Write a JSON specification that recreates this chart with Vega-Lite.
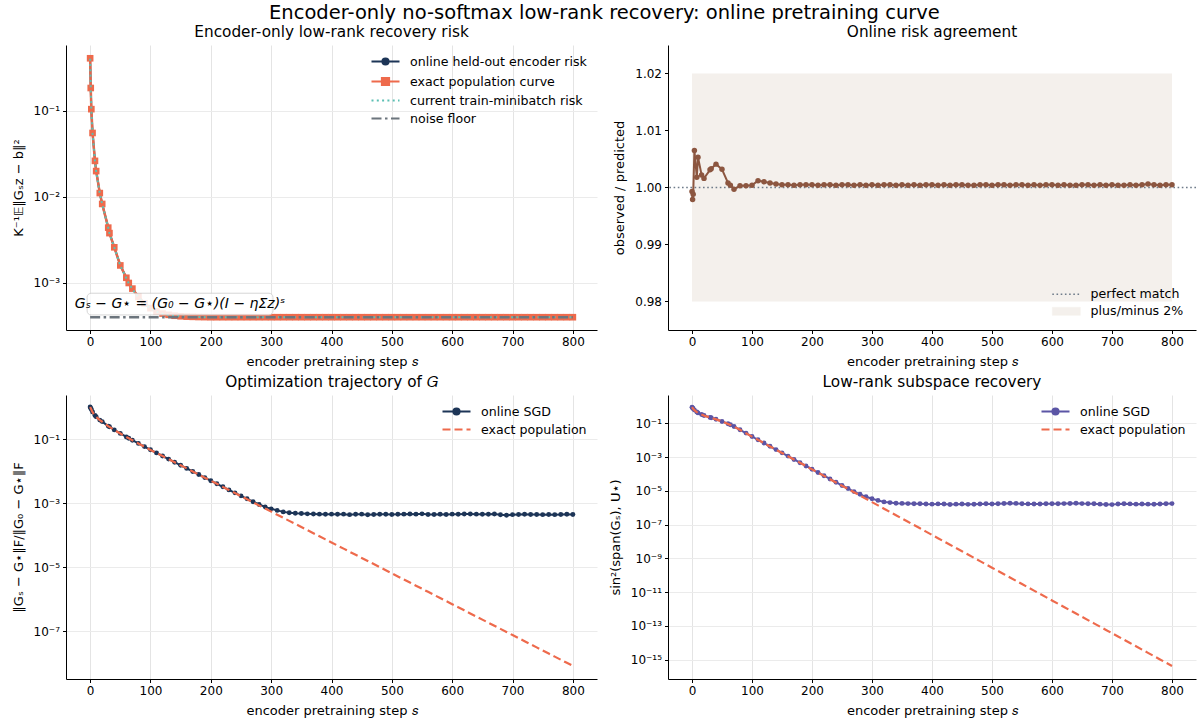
{
"$schema": "https://vega.github.io/schema/vega-lite/v6.json",
"padding": {"left": 12, "top": 3, "right": 5, "bottom": 2},
"title": {"text": "Encoder-only no-softmax low-rank recovery: online pretraining curve", "fontSize": 19.5, "fontWeight": "normal", "anchor": "middle", "offset": 1, "color": "#000"},
"config": {
  "font": "DejaVu Sans",
  "view": {"stroke": null},
  "axis": {"domainColor": "#000", "tickColor": "#000", "labelColor": "#000", "titleColor": "#000", "labelFontSize": 12, "titleFontSize": 13, "titleFontWeight": "normal", "tickSize": 3.5, "labelPadding": 3, "gridColor": "#ebebeb"},
  "axisY": {"titlePadding": 8},
  "axisX": {"titlePadding": 8},
  "title": {"fontSize": 15.3, "fontWeight": "normal", "color": "#000", "offset": 5},
  "legend": {"title": null, "labelFontSize": 12.6, "labelColor": "#000", "symbolSize": 100, "labelOffset": 18, "rowPadding": 4, "labelLimit": 300}
},
"datasets": {"d": [
{"s":0,"re":0.41,"ro":0.4097,"rt":0.405,"q":0.9993,"te":1.0,"to":1.0,"ue":0.891,"uo":0.891},
{"s":1,"re":0.185,"ro":0.1846,"rt":0.183,"q":0.9979,"te":0.912,"to":0.915,"ue":0.794,"uo":0.80},
{"s":2,"re":0.105,"ro":0.1049,"rt":0.104,"q":0.9988,"te":0.832,"to":0.84,"ue":0.724,"uo":0.73},
{"s":4,"re":0.0555,"ro":0.0559,"rt":0.0552,"q":1.0065,"te":0.692,"to":0.70,"ue":0.589,"uo":0.60},
{"s":8,"re":0.0263,"ro":0.02635,"rt":0.0261,"q":1.0018,"te":0.537,"to":0.54,"ue":0.457,"uo":0.46},
{"s":10,"re":0.02,"ro":0.0201,"rt":0.0199,"q":1.0053,"te":0.49,"to":0.495,"ue":0.407,"uo":0.41},
{"s":16,"re":0.0111,"ro":0.01112,"rt":0.011,"q":1.0022,"te":0.389,"to":0.39,"ue":0.324,"uo":0.33},
{"s":20,"re":0.0083,"ro":0.00831,"rt":0.0082,"q":1.0016,"te":0.347,"to":0.35,"ue":0.282,"uo":0.285},
{"s":30,"re":0.0044,"ro":0.00441,"rt":0.00438,"q":1.0031,"te":0.251,"to":0.253,"ue":0.219,"uo":0.222},
{"s":32,"re":0.0038,"ro":0.00381,"rt":0.00378,"q":1.0033,"te":0.24,"to":0.242,"ue":0.209,"uo":0.21},
{"s":40,"re":0.0026,"ro":0.00261,"rt":0.00259,"q":1.0041,"te":0.191,"to":0.193,"ue":0.17,"uo":0.172},
{"s":50,"re":0.0016,"ro":0.0016,"rt":0.00159,"q":1.0032,"te":0.148,"to":0.15,"ue":0.126,"uo":0.128},
{"s":60,"re":0.00115,"ro":0.00115,"rt":0.00114,"q":1.0008,"te":0.115,"to":0.116,"ue":0.0912,"uo":0.093},
{"s":64,"re":0.001,"ro":0.001,"rt":0.00099,"q":1.0004,"te":0.105,"to":0.106,"ue":0.0794,"uo":0.081},
{"s":70,"re":0.00086,"ro":0.00086,"rt":0.00085,"q":0.9997,"te":0.0912,"to":0.092,"ue":0.0631,"uo":0.064},
{"s":80,"re":0.00069,"ro":0.00069,"rt":0.00068,"q":1.0003,"te":0.0724,"to":0.073,"ue":0.0407,"uo":0.041},
{"s":90,"re":0.00058,"ro":0.00058,"rt":0.000575,"q":1.0003,"te":0.0575,"to":0.058,"ue":0.0257,"uo":0.026},
{"s":100,"re":0.00051,"ro":0.00051,"rt":0.000505,"q":1.0004,"te":0.0457,"to":0.046,"ue":0.01622,"uo":0.0164},
{"s":110,"re":0.000467,"ro":0.000468,"rt":0.000464,"q":1.0012,"te":0.03661,"to":0.0368,"ue":0.01038,"uo":0.0105},
{"s":120,"re":0.000441,"ro":0.000441,"rt":0.000439,"q":1.001,"te":0.02933,"to":0.0295,"ue":0.006638,"uo":0.0067},
{"s":130,"re":0.000426,"ro":0.000426,"rt":0.000425,"q":1.0008,"te":0.02349,"to":0.0236,"ue":0.004246,"uo":0.0043},
{"s":140,"re":0.000416,"ro":0.000416,"rt":0.000415,"q":1.0006,"te":0.01882,"to":0.0189,"ue":0.002716,"uo":0.00275},
{"s":150,"re":0.00041,"ro":0.00041,"rt":0.000409,"q":1.0005,"te":0.01507,"to":0.0151,"ue":0.001738,"uo":0.00176},
{"s":160,"re":0.000406,"ro":0.000406,"rt":0.000405,"q":1.0005,"te":0.01207,"to":0.0121,"ue":0.001112,"uo":0.00113},
{"s":170,"re":0.000404,"ro":0.000404,"rt":0.000403,"q":1.0004,"te":0.00967,"to":0.0097,"ue":0.0007111,"uo":0.00072},
{"s":180,"re":0.000402,"ro":0.000402,"rt":0.000401,"q":1.0005,"te":0.007746,"to":0.00778,"ue":0.0004549,"uo":0.00046},
{"s":190,"re":0.000401,"ro":0.000401,"rt":0.0004,"q":1.0005,"te":0.006204,"to":0.00623,"ue":0.000291,"uo":0.000295},
{"s":200,"re":0.0004,"ro":0.0004,"rt":0.0004,"q":1.0005,"te":0.00497,"to":0.005,"ue":0.0001862,"uo":0.000189},
{"s":210,"re":0.0004,"ro":0.0004,"rt":0.0004,"q":1.0004,"te":0.003981,"to":0.004,"ue":0.0001191,"uo":0.000121},
{"s":220,"re":0.0004,"ro":0.0004,"rt":0.0004,"q":1.0005,"te":0.003189,"to":0.00322,"ue":7.618e-5,"uo":7.8e-5},
{"s":230,"re":0.0004,"ro":0.0004,"rt":0.0004,"q":1.0005,"te":0.002554,"to":0.00258,"ue":4.873e-5,"uo":5.0e-5},
{"s":240,"re":0.0004,"ro":0.0004,"rt":0.0004,"q":1.0004,"te":0.002046,"to":0.00208,"ue":3.117e-5,"uo":3.2e-5},
{"s":250,"re":0.0004,"ro":0.0004,"rt":0.0004,"q":1.0005,"te":0.001639,"to":0.00168,"ue":1.994e-5,"uo":2.08e-5},
{"s":260,"re":0.0004,"ro":0.0004,"rt":0.0004,"q":1.0005,"te":0.001313,"to":0.00136,"ue":1.276e-5,"uo":1.36e-5},
{"s":270,"re":0.0004,"ro":0.0004,"rt":0.0004,"q":1.0004,"te":0.001052,"to":0.0011,"ue":8.161e-6,"uo":9.0e-6},
{"s":280,"re":0.0004,"ro":0.0004,"rt":0.0004,"q":1.0005,"te":0.0008423,"to":0.0009,"ue":5.221e-6,"uo":6.2e-6},
{"s":290,"re":0.0004,"ro":0.0004,"rt":0.0004,"q":1.0004,"te":0.0006747,"to":0.00076,"ue":3.34e-6,"uo":4.4e-6},
{"s":300,"re":0.0004,"ro":0.0004,"rt":0.0004,"q":1.0005,"te":0.0005404,"to":0.00066,"ue":2.136e-6,"uo":3.4e-6},
{"s":310,"re":0.0004,"ro":0.0004,"rt":0.0004,"q":1.0004,"te":0.0004329,"to":0.00059,"ue":1.367e-6,"uo":2.7e-6},
{"s":320,"re":0.0004,"ro":0.0004,"rt":0.0004,"q":1.0005,"te":0.0003467,"to":0.00053,"ue":8.742e-7,"uo":2.2e-6},
{"s":330,"re":0.0004,"ro":0.0004,"rt":0.0004,"q":1.0005,"te":0.0002777,"to":0.0005,"ue":5.592e-7,"uo":2.0e-6},
{"s":340,"re":0.0004,"ro":0.0004,"rt":0.0004,"q":1.0004,"te":0.0002225,"to":0.00048,"ue":3.577e-7,"uo":1.85e-6},
{"s":350,"re":0.0004,"ro":0.0004,"rt":0.0004,"q":1.0005,"te":0.0001782,"to":0.00047,"ue":2.288e-7,"uo":1.8e-6},
{"s":360,"re":0.0004,"ro":0.0004,"rt":0.0004,"q":1.0004,"te":0.0001427,"to":0.00046,"ue":1.464e-7,"uo":1.75e-6},
{"s":370,"re":0.0004,"ro":0.0004,"rt":0.0004,"q":1.0005,"te":0.0001143,"to":0.000455,"ue":9.364e-8,"uo":1.7e-6},
{"s":380,"re":0.0004,"ro":0.0004,"rt":0.0004,"q":1.0004,"te":9.159e-5,"to":0.00045,"ue":5.99e-8,"uo":1.72e-6},
{"s":390,"re":0.0004,"ro":0.0004,"rt":0.0004,"q":1.0005,"te":7.336e-5,"to":0.000445,"ue":3.832e-8,"uo":1.65e-6},
{"s":400,"re":0.0004,"ro":0.0004,"rt":0.0004,"q":1.0005,"te":5.876e-5,"to":0.00045,"ue":2.451e-8,"uo":1.62e-6},
{"s":410,"re":0.0004,"ro":0.0004,"rt":0.0004,"q":1.0004,"te":4.707e-5,"to":0.000445,"ue":1.568e-8,"uo":1.68e-6},
{"s":420,"re":0.0004,"ro":0.0004,"rt":0.0004,"q":1.0005,"te":3.77e-5,"to":0.00045,"ue":1.003e-8,"uo":1.65e-6},
{"s":430,"re":0.0004,"ro":0.0004,"rt":0.0004,"q":1.0004,"te":3.02e-5,"to":0.000435,"ue":6.417e-9,"uo":1.55e-6},
{"s":440,"re":0.0004,"ro":0.0004,"rt":0.0004,"q":1.0005,"te":2.419e-5,"to":0.000445,"ue":4.105e-9,"uo":1.62e-6},
{"s":450,"re":0.0004,"ro":0.0004,"rt":0.0004,"q":1.0005,"te":1.938e-5,"to":0.00045,"ue":2.626e-9,"uo":1.66e-6},
{"s":460,"re":0.0004,"ro":0.0004,"rt":0.0004,"q":1.0004,"te":1.552e-5,"to":0.00043,"ue":1.68e-9,"uo":1.58e-6},
{"s":470,"re":0.0004,"ro":0.0004,"rt":0.0004,"q":1.0004,"te":1.243e-5,"to":0.00044,"ue":1.075e-9,"uo":1.6e-6},
{"s":480,"re":0.0004,"ro":0.0004,"rt":0.0004,"q":1.0005,"te":9.959e-6,"to":0.000445,"ue":6.873e-10,"uo":1.65e-6},
{"s":490,"re":0.0004,"ro":0.0004,"rt":0.0004,"q":1.0005,"te":7.977e-6,"to":0.000445,"ue":4.397e-10,"uo":1.7e-6},
{"s":500,"re":0.0004,"ro":0.0004,"rt":0.0004,"q":1.0004,"te":6.39e-6,"to":0.00044,"ue":2.813e-10,"uo":1.64e-6},
{"s":510,"re":0.0004,"ro":0.0004,"rt":0.0004,"q":1.0005,"te":5.118e-6,"to":0.000445,"ue":1.799e-10,"uo":1.7e-6},
{"s":520,"re":0.0004,"ro":0.0004,"rt":0.0004,"q":1.0005,"te":4.1e-6,"to":0.00045,"ue":1.151e-10,"uo":1.78e-6},
{"s":530,"re":0.0004,"ro":0.0004,"rt":0.0004,"q":1.0004,"te":3.284e-6,"to":0.000455,"ue":7.363e-11,"uo":1.85e-6},
{"s":540,"re":0.0004,"ro":0.0004,"rt":0.0004,"q":1.0005,"te":2.63e-6,"to":0.00045,"ue":4.71e-11,"uo":1.8e-6},
{"s":550,"re":0.0004,"ro":0.0004,"rt":0.0004,"q":1.0005,"te":2.107e-6,"to":0.00046,"ue":3.013e-11,"uo":1.72e-6},
{"s":560,"re":0.0004,"ro":0.0004,"rt":0.0004,"q":1.0004,"te":1.688e-6,"to":0.00044,"ue":1.927e-11,"uo":1.68e-6},
{"s":570,"re":0.0004,"ro":0.0004,"rt":0.0004,"q":1.0005,"te":1.352e-6,"to":0.00044,"ue":1.233e-11,"uo":1.65e-6},
{"s":580,"re":0.0004,"ro":0.0004,"rt":0.0004,"q":1.0004,"te":1.083e-6,"to":0.000445,"ue":7.888e-12,"uo":1.66e-6},
{"s":590,"re":0.0004,"ro":0.0004,"rt":0.0004,"q":1.0005,"te":8.674e-7,"to":0.00044,"ue":5.046e-12,"uo":1.7e-6},
{"s":600,"re":0.0004,"ro":0.0004,"rt":0.0004,"q":1.0005,"te":6.948e-7,"to":0.00045,"ue":3.228e-12,"uo":1.72e-6},
{"s":610,"re":0.0004,"ro":0.0004,"rt":0.0004,"q":1.0004,"te":5.565e-7,"to":0.000445,"ue":2.065e-12,"uo":1.7e-6},
{"s":620,"re":0.0004,"ro":0.0004,"rt":0.0004,"q":1.0005,"te":4.458e-7,"to":0.000455,"ue":1.321e-12,"uo":1.75e-6},
{"s":630,"re":0.0004,"ro":0.0004,"rt":0.0004,"q":1.0004,"te":3.571e-7,"to":0.000455,"ue":8.45e-13,"uo":1.78e-6},
{"s":640,"re":0.0004,"ro":0.0004,"rt":0.0004,"q":1.0004,"te":2.86e-7,"to":0.00045,"ue":5.405e-13,"uo":1.85e-6},
{"s":650,"re":0.0004,"ro":0.0004,"rt":0.0004,"q":1.0005,"te":2.291e-7,"to":0.000445,"ue":3.458e-13,"uo":1.75e-6},
{"s":660,"re":0.0004,"ro":0.0004,"rt":0.0004,"q":1.0005,"te":1.835e-7,"to":0.000445,"ue":2.212e-13,"uo":1.7e-6},
{"s":670,"re":0.0004,"ro":0.0004,"rt":0.0004,"q":1.0004,"te":1.47e-7,"to":0.000455,"ue":1.415e-13,"uo":1.72e-6},
{"s":680,"re":0.0004,"ro":0.0004,"rt":0.0004,"q":1.0005,"te":1.177e-7,"to":0.00043,"ue":9.052e-14,"uo":1.62e-6},
{"s":690,"re":0.0004,"ro":0.0004,"rt":0.0004,"q":1.0004,"te":9.431e-8,"to":0.000415,"ue":5.791e-14,"uo":1.55e-6},
{"s":700,"re":0.0004,"ro":0.0004,"rt":0.0004,"q":1.0005,"te":7.554e-8,"to":0.000435,"ue":3.704e-14,"uo":1.52e-6},
{"s":710,"re":0.0004,"ro":0.0004,"rt":0.0004,"q":1.0004,"te":6.051e-8,"to":0.00044,"ue":2.37e-14,"uo":1.65e-6},
{"s":720,"re":0.0004,"ro":0.0004,"rt":0.0004,"q":1.0004,"te":4.847e-8,"to":0.000445,"ue":1.516e-14,"uo":1.7e-6},
{"s":730,"re":0.0004,"ro":0.0004,"rt":0.0004,"q":1.0005,"te":3.882e-8,"to":0.00044,"ue":9.697e-15,"uo":1.68e-6},
{"s":740,"re":0.0004,"ro":0.0004,"rt":0.0004,"q":1.0004,"te":3.11e-8,"to":0.00044,"ue":6.203e-15,"uo":1.62e-6},
{"s":750,"re":0.0004,"ro":0.0004,"rt":0.0004,"q":1.0005,"te":2.491e-8,"to":0.000435,"ue":3.968e-15,"uo":1.65e-6},
{"s":760,"re":0.0004,"ro":0.0004,"rt":0.0004,"q":1.0006,"te":1.995e-8,"to":0.00044,"ue":2.538e-15,"uo":1.62e-6},
{"s":770,"re":0.0004,"ro":0.0004,"rt":0.0004,"q":1.0005,"te":1.598e-8,"to":0.000435,"ue":1.624e-15,"uo":1.6e-6},
{"s":780,"re":0.0004,"ro":0.0004,"rt":0.0004,"q":1.0004,"te":1.28e-8,"to":0.00044,"ue":1.039e-15,"uo":1.65e-6},
{"s":790,"re":0.0004,"ro":0.0004,"rt":0.0004,"q":1.0005,"te":1.025e-8,"to":0.000445,"ue":6.645e-16,"uo":1.72e-6},
{"s":800,"re":0.0004,"ro":0.0004,"rt":0.0004,"q":1.0005,"te":8.213e-9,"to":0.00044,"ue":4.251e-16,"uo":1.75e-6}
]},
"columns": 2,
"spacing": {"column": 12, "row": 5},
"resolve": {"scale": {"color": "independent"}, "legend": {"color": "independent"}},
"concat": [
{
  "width": 531, "height": 285,
  "title": "Encoder-only low-rank recovery risk",
  "data": {"name": "d"},
  "layer": [
    {"mark": {"type": "line", "strokeWidth": 2, "point": {"filled": true, "size": 14}},
     "encoding": {
       "x": {"field": "s", "type": "quantitative", "scale": {"domain": [-40, 840], "nice": false, "zero": false},
             "axis": {"title": "encoder pretraining step 𝑠", "values": [0,50,100,150,200,250,300,350,400,450,500,550,600,650,700,750,800], "labelExpr": "datum.value % 100 === 0 ? datum.label : ''", "gridColor": {"condition": {"test": "datum.value % 100 === 0", "value": "#e4e4e4"}, "value": "#f2f2f2"}, "tickSize": {"condition": {"test": "datum.value % 100 === 0", "value": 3.5}, "value": 0}}},
       "y": {"field": "ro", "type": "quantitative", "scale": {"type": "log", "domain": [0.000284, 0.585], "nice": false},
             "axis": {"title": "K⁻¹𝔼‖Gₛz − b‖²", "values": [0.1, 0.01, 0.001], "labelExpr": "'10' + (datum.value < 1 ? '⁻' : '') + (abs(round(log(datum.value)/LN10)) >= 10 ? ['⁰','¹','²','³','⁴','⁵','⁶','⁷','⁸','⁹'][floor(abs(round(log(datum.value)/LN10))/10)] : '') + ['⁰','¹','²','³','⁴','⁵','⁶','⁷','⁸','⁹'][abs(round(log(datum.value)/LN10)) % 10]"}},
       "color": {"datum": "online held-out encoder risk", "type": "nominal",
                 "scale": {"domain": ["online held-out encoder risk", "exact population curve", "current train-minibatch risk", "noise floor"], "range": ["#1d3557", "#ee6a4c", "#5bbfb3", "#6c757d"]},
                 "legend": {"orient": "top-right", "offset": 10,
                   "encode": {"symbols": {"update": {
                     "shape": {"signal": "datum.value === 'online held-out encoder risk' ? 'M-2.8,0L2.8,0M-0.6,0A0.6,0.6,0,1,1,0.6,0A0.6,0.6,0,1,1,-0.6,0' : datum.value === 'exact population curve' ? 'M-2.8,0L2.8,0M-0.7,-0.7L0.7,-0.7L0.7,0.7L-0.7,0.7Z' : 'M-2.8,0L2.8,0'"},
                     "fill": {"signal": "datum.value === 'online held-out encoder risk' ? '#1d3557' : datum.value === 'exact population curve' ? '#ee6a4c' : 'transparent'"},
                     "stroke": {"signal": "datum.value === 'online held-out encoder risk' ? '#1d3557' : datum.value === 'exact population curve' ? '#ee6a4c' : datum.value === 'noise floor' ? '#6c757d' : '#5bbfb3'"},
                     "strokeDash": {"signal": "datum.value === 'current train-minibatch risk' ? [2, 3.3] : datum.value === 'noise floor' ? [10, 3.5, 2.5, 3.5] : []"},
                     "strokeWidth": {"value": 2.2},
                     "opacity": {"value": 1}
                   }}}}}
     }},
    {"mark": {"type": "line", "strokeWidth": 2.5, "opacity": 0.95, "point": {"filled": true, "shape": "square", "size": 44}},
     "encoding": {"x": {"field": "s", "type": "quantitative"}, "y": {"field": "re", "type": "quantitative"}, "color": {"datum": "exact population curve", "type": "nominal"}}},
    {"mark": {"type": "line", "strokeWidth": 2, "strokeDash": [2, 3.3]},
     "encoding": {"x": {"field": "s", "type": "quantitative"}, "y": {"field": "rt", "type": "quantitative"}, "color": {"datum": "current train-minibatch risk", "type": "nominal"}}},
    {"data": {"values": [{}]}, "mark": {"type": "rule", "strokeWidth": 2.5, "strokeDash": [10, 3.5, 2.5, 3.5]},
     "encoding": {"x": {"datum": 0}, "x2": {"datum": 800}, "y": {"datum": 0.0004}, "color": {"datum": "noise floor", "type": "nominal"}}},
    {"data": {"values": [{}]}, "mark": {"type": "rect", "fill": "white", "stroke": "#cfcfcf", "strokeWidth": 1, "cornerRadius": 4, "opacity": 0.85},
     "encoding": {"x": {"datum": -5}, "x2": {"datum": 303}, "y": {"datum": 0.00076}, "y2": {"datum": 0.000425}}},
    {"data": {"values": [{}]}, "mark": {"type": "text", "fontSize": 14, "fontStyle": "italic", "color": "#000"},
     "encoding": {"x": {"datum": 149}, "y": {"datum": 0.00057}, "text": {"value": "Gₛ − G⋆ = (G₀ − G⋆)(I − ηΣz)ˢ"}}}
  ]
},
{
  "width": 528, "height": 285,
  "title": "Online risk agreement",
  "data": {"name": "d"},
  "layer": [
    {"data": {"values": [{}]}, "mark": {"type": "rect"},
     "encoding": {
       "x": {"datum": 0, "type": "quantitative", "scale": {"domain": [-40, 840], "nice": false, "zero": false},
             "axis": {"title": "encoder pretraining step 𝑠", "values": [0,50,100,150,200,250,300,350,400,450,500,550,600,650,700,750,800], "labelExpr": "datum.value % 100 === 0 ? datum.label : ''", "gridColor": {"condition": {"test": "datum.value % 100 === 0", "value": "#e4e4e4"}, "value": "#f2f2f2"}, "tickSize": {"condition": {"test": "datum.value % 100 === 0", "value": 3.5}, "value": 0}}},
       "x2": {"datum": 800},
       "y": {"datum": 0.98, "type": "quantitative", "scale": {"domain": [0.975, 1.025], "nice": false, "zero": false},
             "axis": {"title": "observed / predicted", "values": [0.98, 0.99, 1.0, 1.01, 1.02], "format": ".2f"}},
       "y2": {"datum": 1.02},
       "color": {"datum": "plus/minus 2%", "type": "nominal",
                 "scale": {"domain": ["perfect match", "plus/minus 2%"], "range": ["#6f7c8a", "#f4f0ec"]},
                 "legend": {"orient": "bottom-right", "offset": 12,
                   "encode": {"symbols": {"update": {
                     "shape": {"signal": "datum.value === 'perfect match' ? 'M-2.8,0L2.8,0' : 'M-2.8,-0.8L2.8,-0.8L2.8,0.8L-2.8,0.8Z'"},
                     "fill": {"signal": "datum.value === 'perfect match' ? 'transparent' : '#f4f0ec'"},
                     "stroke": {"signal": "datum.value === 'perfect match' ? '#6f7c8a' : '#f4f0ec'"},
                     "strokeDash": {"signal": "datum.value === 'perfect match' ? [1.6, 2.6] : []"},
                     "strokeWidth": {"signal": "datum.value === 'perfect match' ? 1.6 : 0.5"},
                     "opacity": {"value": 1}
                   }}}}}
     }},
    {"data": {"values": [{}]}, "mark": {"type": "rule", "strokeWidth": 1.6, "strokeDash": [1.6, 2.6]},
     "encoding": {"y": {"datum": 1.0}, "color": {"datum": "perfect match", "type": "nominal"}}},
    {"mark": {"type": "line", "strokeWidth": 2, "color": "#8c5640", "point": {"filled": true, "size": 30, "color": "#8c5640"}},
     "encoding": {"x": {"field": "s", "type": "quantitative"}, "y": {"field": "q", "type": "quantitative"}}}
  ]
},
{
  "width": 531, "height": 284,
  "title": "Optimization trajectory of 𝐺",
  "data": {"name": "d"},
  "layer": [
    {"mark": {"type": "line", "strokeWidth": 2, "point": {"filled": true, "size": 24}},
     "encoding": {
       "x": {"field": "s", "type": "quantitative", "scale": {"domain": [-40, 840], "nice": false, "zero": false},
             "axis": {"title": "encoder pretraining step 𝑠", "values": [0,50,100,150,200,250,300,350,400,450,500,550,600,650,700,750,800], "labelExpr": "datum.value % 100 === 0 ? datum.label : ''", "gridColor": {"condition": {"test": "datum.value % 100 === 0", "value": "#e4e4e4"}, "value": "#f2f2f2"}, "tickSize": {"condition": {"test": "datum.value % 100 === 0", "value": 3.5}, "value": 0}}},
       "y": {"field": "to", "type": "quantitative", "scale": {"type": "log", "domain": [3.2e-9, 2.37], "nice": false},
             "axis": {"title": "‖Gₛ − G⋆‖F/‖G₀ − G⋆‖F", "values": [0.1, 0.001, 0.00001, 0.0000001], "labelExpr": "'10' + (datum.value < 1 ? '⁻' : '') + (abs(round(log(datum.value)/LN10)) >= 10 ? ['⁰','¹','²','³','⁴','⁵','⁶','⁷','⁸','⁹'][floor(abs(round(log(datum.value)/LN10))/10)] : '') + ['⁰','¹','²','³','⁴','⁵','⁶','⁷','⁸','⁹'][abs(round(log(datum.value)/LN10)) % 10]"}},
       "color": {"datum": "online SGD", "type": "nominal",
                 "scale": {"domain": ["online SGD", "exact population"], "range": ["#1d3557", "#ee6a4c"]},
                 "legend": {"orient": "top-right", "offset": 10,
                   "encode": {"symbols": {"update": {
                     "shape": {"signal": "datum.value === 'online SGD' ? 'M-2.8,0L2.8,0M-0.6,0A0.6,0.6,0,1,1,0.6,0A0.6,0.6,0,1,1,-0.6,0' : 'M-2.8,0L2.8,0'"},
                     "fill": {"signal": "datum.value === 'online SGD' ? '#1d3557' : 'transparent'"},
                     "stroke": {"signal": "datum.value === 'online SGD' ? '#1d3557' : '#ee6a4c'"},
                     "strokeDash": {"signal": "datum.value === 'online SGD' ? [] : [8, 4]"},
                     "strokeWidth": {"value": 2.2},
                     "opacity": {"value": 1}
                   }}}}}
     }},
    {"mark": {"type": "line", "strokeWidth": 2.2, "strokeDash": [8, 4]},
     "encoding": {"x": {"field": "s", "type": "quantitative"}, "y": {"field": "te", "type": "quantitative"}, "color": {"datum": "exact population", "type": "nominal"}}}
  ]
},
{
  "width": 528, "height": 284,
  "title": "Low-rank subspace recovery",
  "data": {"name": "d"},
  "layer": [
    {"mark": {"type": "line", "strokeWidth": 2, "point": {"filled": true, "size": 24}},
     "encoding": {
       "x": {"field": "s", "type": "quantitative", "scale": {"domain": [-40, 840], "nice": false, "zero": false},
             "axis": {"title": "encoder pretraining step 𝑠", "values": [0,50,100,150,200,250,300,350,400,450,500,550,600,650,700,750,800], "labelExpr": "datum.value % 100 === 0 ? datum.label : ''", "gridColor": {"condition": {"test": "datum.value % 100 === 0", "value": "#e4e4e4"}, "value": "#f2f2f2"}, "tickSize": {"condition": {"test": "datum.value % 100 === 0", "value": 3.5}, "value": 0}}},
       "y": {"field": "uo", "type": "quantitative", "scale": {"type": "log", "domain": [7.2e-17, 4.7], "nice": false},
             "axis": {"title": "sin²(span(Gₛ), U⋆)", "values": [1e-1, 1e-3, 1e-5, 1e-7, 1e-9, 1e-11, 1e-13, 1e-15], "labelExpr": "'10' + (datum.value < 1 ? '⁻' : '') + (abs(round(log(datum.value)/LN10)) >= 10 ? ['⁰','¹','²','³','⁴','⁵','⁶','⁷','⁸','⁹'][floor(abs(round(log(datum.value)/LN10))/10)] : '') + ['⁰','¹','²','³','⁴','⁵','⁶','⁷','⁸','⁹'][abs(round(log(datum.value)/LN10)) % 10]"}},
       "color": {"datum": "online SGD", "type": "nominal",
                 "scale": {"domain": ["online SGD", "exact population"], "range": ["#5b55a5", "#ee6a4c"]},
                 "legend": {"orient": "top-right", "offset": 10,
                   "encode": {"symbols": {"update": {
                     "shape": {"signal": "datum.value === 'online SGD' ? 'M-2.8,0L2.8,0M-0.6,0A0.6,0.6,0,1,1,0.6,0A0.6,0.6,0,1,1,-0.6,0' : 'M-2.8,0L2.8,0'"},
                     "fill": {"signal": "datum.value === 'online SGD' ? '#5b55a5' : 'transparent'"},
                     "stroke": {"signal": "datum.value === 'online SGD' ? '#5b55a5' : '#ee6a4c'"},
                     "strokeDash": {"signal": "datum.value === 'online SGD' ? [] : [8, 4]"},
                     "strokeWidth": {"value": 2.2},
                     "opacity": {"value": 1}
                   }}}}}
     }},
    {"mark": {"type": "line", "strokeWidth": 2.2, "strokeDash": [8, 4]},
     "encoding": {"x": {"field": "s", "type": "quantitative"}, "y": {"field": "ue", "type": "quantitative"}, "color": {"datum": "exact population", "type": "nominal"}}}
  ]
}
]
}
